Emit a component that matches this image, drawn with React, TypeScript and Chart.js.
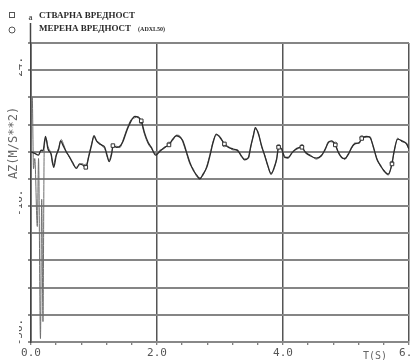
import React, { useEffect, useRef } from "react";
import { Chart, registerables } from "chart.js";

Chart.register(...registerables);

// ---- data ----
const T_ACTUAL = [
  0.0, 0.06, 0.12, 0.16, 0.19, 0.23, 0.27, 0.32, 0.36, 0.4, 0.44, 0.47, 0.51, 0.55, 0.6, 0.66, 0.72, 0.77, 0.82, 0.87,
  0.92, 0.96, 1.0, 1.04, 1.09, 1.13, 1.17, 1.21, 1.24, 1.28, 1.3, 1.36, 1.41, 1.46, 1.52, 1.59, 1.65, 1.7, 1.75, 1.8,
  1.86, 1.91, 1.98, 2.04, 2.12, 2.19, 2.25, 2.31, 2.37, 2.41, 2.47, 2.52, 2.58, 2.64, 2.68, 2.73, 2.79, 2.84, 2.89, 2.94,
  3.0, 3.07, 3.13, 3.21, 3.28, 3.34, 3.39, 3.45, 3.49, 3.53, 3.56, 3.61, 3.66, 3.71, 3.76, 3.81, 3.86, 3.9, 3.93, 3.98,
  4.03, 4.08, 4.15, 4.22, 4.3, 4.35, 4.43, 4.53, 4.61, 4.67, 4.72, 4.77, 4.83, 4.88, 4.93, 4.98, 5.04, 5.09, 5.14, 5.21,
  5.25, 5.32, 5.38, 5.43, 5.49, 5.55, 5.6, 5.67, 5.73, 5.76, 5.82, 5.89, 5.96, 6.0,
];
const ACTUAL = [
  0.0, -0.5, -1.0, 0.5, 0.3, 4.5, 0.8, -0.7, -4.6, -1.2, 0.8, 3.2, 1.8, 0.3, -1.2, -3.1, -4.9, -3.6, -3.9, -4.6,
  -1.2, 1.8, 4.7, 3.2, 2.3, 1.9, 1.3, -1.2, -2.9, -0.7, 1.8, 1.3, 1.6, 3.0, 6.2, 9.1, 10.4, 10.1, 9.1, 5.7,
  2.7, 1.3, -1.0, 0.0, 1.3, 2.0, 3.7, 4.7, 4.2, 3.2, -0.2, -3.1, -5.6, -7.1, -8.0, -6.6, -4.6, -1.2, 2.7, 5.2,
  4.2, 2.3, 1.3, 0.8, 0.3, -1.2, -2.4, -1.7, 1.8, 4.7, 7.1, 5.2, 1.8, -1.2, -4.1, -6.6, -4.6, -2.2, 1.3, 0.8,
  -1.7, -1.7, -0.2, 1.0, 1.3, 0.0, -1.2, -1.9, -1.2, 0.8, 2.7, 3.2, 2.0, -0.2, -1.7, -2.0, -0.7, 1.3, 2.3, 2.7,
  3.9, 4.5, 4.2, 1.8, -2.2, -4.1, -5.6, -6.6, -3.6, -0.2, 3.7, 3.2, 2.3, 0.8,
];
const T_MEASURED = [
  0.0, 0.02, 0.04, 0.06, 0.1, 0.12, 0.15, 0.17, 0.19, 0.21, 0.24, 0.27, 0.31, 0.35, 0.4, 0.44, 0.48, 0.52, 0.56, 0.61,
  0.66, 0.71, 0.77, 0.82, 0.87, 0.92, 0.96, 1.0, 1.05, 1.09, 1.13, 1.17, 1.21, 1.24, 1.28, 1.31, 1.36, 1.41, 1.46, 1.52,
  1.59, 1.65, 1.7, 1.75, 1.8, 1.86, 1.91, 1.98, 2.04, 2.12, 2.19, 2.25, 2.31, 2.37, 2.41, 2.47, 2.52, 2.58, 2.64, 2.68,
  2.73, 2.79, 2.84, 2.89, 2.94, 3.0, 3.07, 3.13, 3.21, 3.28, 3.34, 3.39, 3.45, 3.49, 3.53, 3.56, 3.61, 3.66, 3.71, 3.76,
  3.81, 3.86, 3.9, 3.93, 3.98, 4.03, 4.08, 4.15, 4.22, 4.3, 4.35, 4.43, 4.53, 4.61, 4.67, 4.72, 4.77, 4.83, 4.88, 4.93,
  4.98, 5.04, 5.09, 5.14, 5.21, 5.25, 5.32, 5.38, 5.43, 5.49, 5.55, 5.6, 5.67, 5.73, 5.76, 5.82, 5.89, 5.96, 6.0,
];
const MEASURED = [
  0.0, 16.0, -5.0, -2.0, -22.0, -2.0, -55.0, -14.0, -50.0, 1.0, 3.8, 1.5, -0.2, -3.9, -0.8, 1.2, 3.6, 2.0, 0.0, -1.6,
  -3.5, -4.6, -3.9, -3.5, -4.2, -0.8, 2.2, 4.3, 3.0, 2.6, 1.6, 0.9, -1.6, -2.5, -0.2, 1.5, 1.6, 1.2, 3.4, 6.6,
  9.5, 10.0, 10.4, 8.7, 5.2, 2.3, 1.0, -0.6, 0.4, 1.0, 2.3, 3.3, 4.9, 4.5, 2.8, -0.6, -3.5, -5.2, -7.5, -7.6,
  -7.0, -4.2, -0.8, 3.0, 4.9, 4.5, 2.0, 1.6, 0.5, 0.6, -1.5, -2.1, -2.0, 1.4, 5.0, 6.7, 5.6, 1.4, -0.9, -4.4,
  -6.2, -5.0, -1.8, 1.6, 0.4, -1.4, -2.0, 0.1, 0.7, 1.6, -0.3, -0.9, -2.2, -0.9, 0.5, 3.0, 2.9, 2.3, -0.5, -1.4,
  -2.3, -0.4, 1.0, 2.6, 2.4, 4.2, 4.2, 4.5, 1.4, -1.9, -4.4, -5.3, -6.9, -3.3, -0.5, 4.0, 2.9, 2.6, 0.5,
];
const MARKER_T = [0.87, 1.3, 1.75, 2.19, 3.07, 3.93, 4.3, 4.83, 5.25, 5.73];

const Y_LABEL_VALUES = [24, -16, -56];
const Y_LABEL_TEXTS = [" 24.", " -16.", "   -56."];
const X_LABEL_VALUES = [0, 2, 4, 6];
const X_LABEL_TEXTS = ["0.0", "2.0", "4.0", "6.0"];
const SERIES_NAMES = ["СТВАРНА ВРЕДНОСТ", "МЕРЕНА ВРЕДНОСТ"];
const SENSOR_NOTE = "(ADXL50)";
const Y_TITLE = "AZ(M/S**2)";
const X_TITLE = "T(S)";

const MONO = "'DejaVu Sans Mono', monospace";

const near = (a: number, b: number) => Math.abs(a - b) < 1e-6;

const decorPlugin = {
  id: "decor",
  afterDraw(chart: any) {
    const { ctx, chartArea } = chart;
    ctx.save();
    // axis extension above the plot
    ctx.strokeStyle = "#444";
    ctx.lineWidth = 1.5;
    ctx.beginPath();
    ctx.moveTo(chartArea.left - 0.5, chartArea.top);
    ctx.lineTo(chartArea.left - 0.5, 23);
    ctx.stroke();
    ctx.fillStyle = "#555";
    ctx.font = "bold 8px 'Liberation Serif', serif";
    ctx.textAlign = "center";
    ctx.textBaseline = "middle";
    ctx.fillText("a", chartArea.left - 0.5, 18);

    // legend markers
    ctx.strokeStyle = "#555";
    ctx.lineWidth = 1;
    ctx.strokeRect(9.5, 12.5, 5, 5);
    ctx.beginPath();
    ctx.arc(12, 30, 3, 0, Math.PI * 2);
    ctx.stroke();

    // legend text
    ctx.fillStyle = "#2a2a2a";
    ctx.textAlign = "left";
    ctx.textBaseline = "middle";
    ctx.font = "bold 9px 'Liberation Serif', serif";
    ctx.fillText(SERIES_NAMES[0], 39, 16);
    ctx.fillText(SERIES_NAMES[1], 39, 29);
    const w = ctx.measureText(SERIES_NAMES[1]).width;
    ctx.font = "bold 6px 'Liberation Serif', serif";
    ctx.fillText(SENSOR_NOTE, 39 + w + 7, 29.5);

    // y title
    ctx.fillStyle = "#666";
    ctx.font = `12px ${MONO}`;
    ctx.translate(14, 143);
    ctx.rotate(-Math.PI / 2);
    ctx.textAlign = "center";
    ctx.fillText(Y_TITLE, 0, 0);
    ctx.restore();

    // x title
    ctx.save();
    ctx.fillStyle = "#666";
    ctx.font = `10px ${MONO}`;
    ctx.textAlign = "center";
    ctx.textBaseline = "middle";
    ctx.fillText(X_TITLE, 375, 356);
    ctx.restore();
  },
};

export default function App() {
  const ref = useRef<HTMLCanvasElement | null>(null);

  useEffect(() => {
    if (!ref.current) return;
    const markerRadius = (times: number[], r: number) => (c: any) =>
      MARKER_T.some((m) => near(m, times[c.dataIndex])) ? r : 0;

    const chart = new Chart(ref.current, {
      type: "line",
      data: {
        datasets: [
          {
            label: SERIES_NAMES[0],
            data: T_ACTUAL.map((t, i) => ({ x: t, y: ACTUAL[i] })),
            borderColor: "#2b2b2b",
            borderWidth: 1.3,
            cubicInterpolationMode: "monotone",
            pointStyle: "rect",
            pointRadius: markerRadius(T_ACTUAL, 2.5),
            pointBackgroundColor: "#fff",
            pointBorderColor: "#333",
            pointBorderWidth: 1,
            fill: false,
          },
          {
            label: SERIES_NAMES[1] + " " + SENSOR_NOTE,
            data: T_MEASURED.map((t, i) => ({ x: t, y: MEASURED[i] })),
            borderColor: "#6e6e6e",
            borderWidth: 1,
            cubicInterpolationMode: "monotone",
            pointStyle: "circle",
            pointRadius: markerRadius(T_MEASURED, 1.8),
            pointBackgroundColor: "rgba(0,0,0,0)",
            pointBorderColor: "#666",
            pointBorderWidth: 1,
            fill: false,
          },
        ],
      },
      options: {
        animation: false,
        responsive: false,
        devicePixelRatio: 1,
        layout: { padding: { left: 19, top: 43, right: 21, bottom: 0 } },
        plugins: { legend: { display: false }, tooltip: { enabled: false } },
        scales: {
          x: {
            type: "linear",
            min: 0,
            max: 6,
            afterFit: (s: any) => {
              s.height = 18;
            },
            ticks: {
              stepSize: 0.4,
              autoSkip: false,
              minRotation: 0,
              maxRotation: 0,
              padding: 2,
              color: "#555",
              font: { family: MONO, size: 11 },
              callback: (v: any) => {
                const i = X_LABEL_VALUES.findIndex((x) => near(x, Number(v)));
                return i >= 0 ? X_LABEL_TEXTS[i] : "";
              },
            },
            grid: {
              color: (c: any) =>
                X_LABEL_VALUES.some((x) => near(x, c.tick ? c.tick.value : -1)) ? "#555" : "rgba(0,0,0,0)",
              lineWidth: 1.5,
              tickColor: "#555",
              tickWidth: 1,
              tickLength: 3,
            },
            border: { display: true, color: "#888", width: 2 },
          },
          y: {
            type: "linear",
            min: -56,
            max: 32,
            afterFit: (s: any) => {
              s.width = 12;
            },
            ticks: {
              stepSize: 8,
              autoSkip: false,
              minRotation: 90,
              maxRotation: 90,
              crossAlign: "center",
              padding: -14,
              color: "#555",
              font: { family: MONO, size: 11 },
              callback: (v: any) => {
                const i = Y_LABEL_VALUES.findIndex((y) => near(y, Number(v)));
                return i >= 0 ? Y_LABEL_TEXTS[i] : "";
              },
            },
            grid: {
              color: "#858585",
              lineWidth: 2,
              tickColor: "#666",
              tickWidth: 1.5,
              tickLength: 3,
            },
            border: { display: true, color: "#444", width: 1.5 },
          },
        },
      } as any,
      plugins: [decorPlugin],
    });
    return () => chart.destroy();
  }, []);

  return (
    <div
      style={{
        position: "fixed",
        left: 0,
        top: 0,
        width: 410,
        height: 360,
        overflow: "hidden",
        background: "#fff",
      }}
    >
      <canvas ref={ref} width={430} height={360} style={{ display: "block", width: 430, height: 360 }} />
    </div>
  );
}
